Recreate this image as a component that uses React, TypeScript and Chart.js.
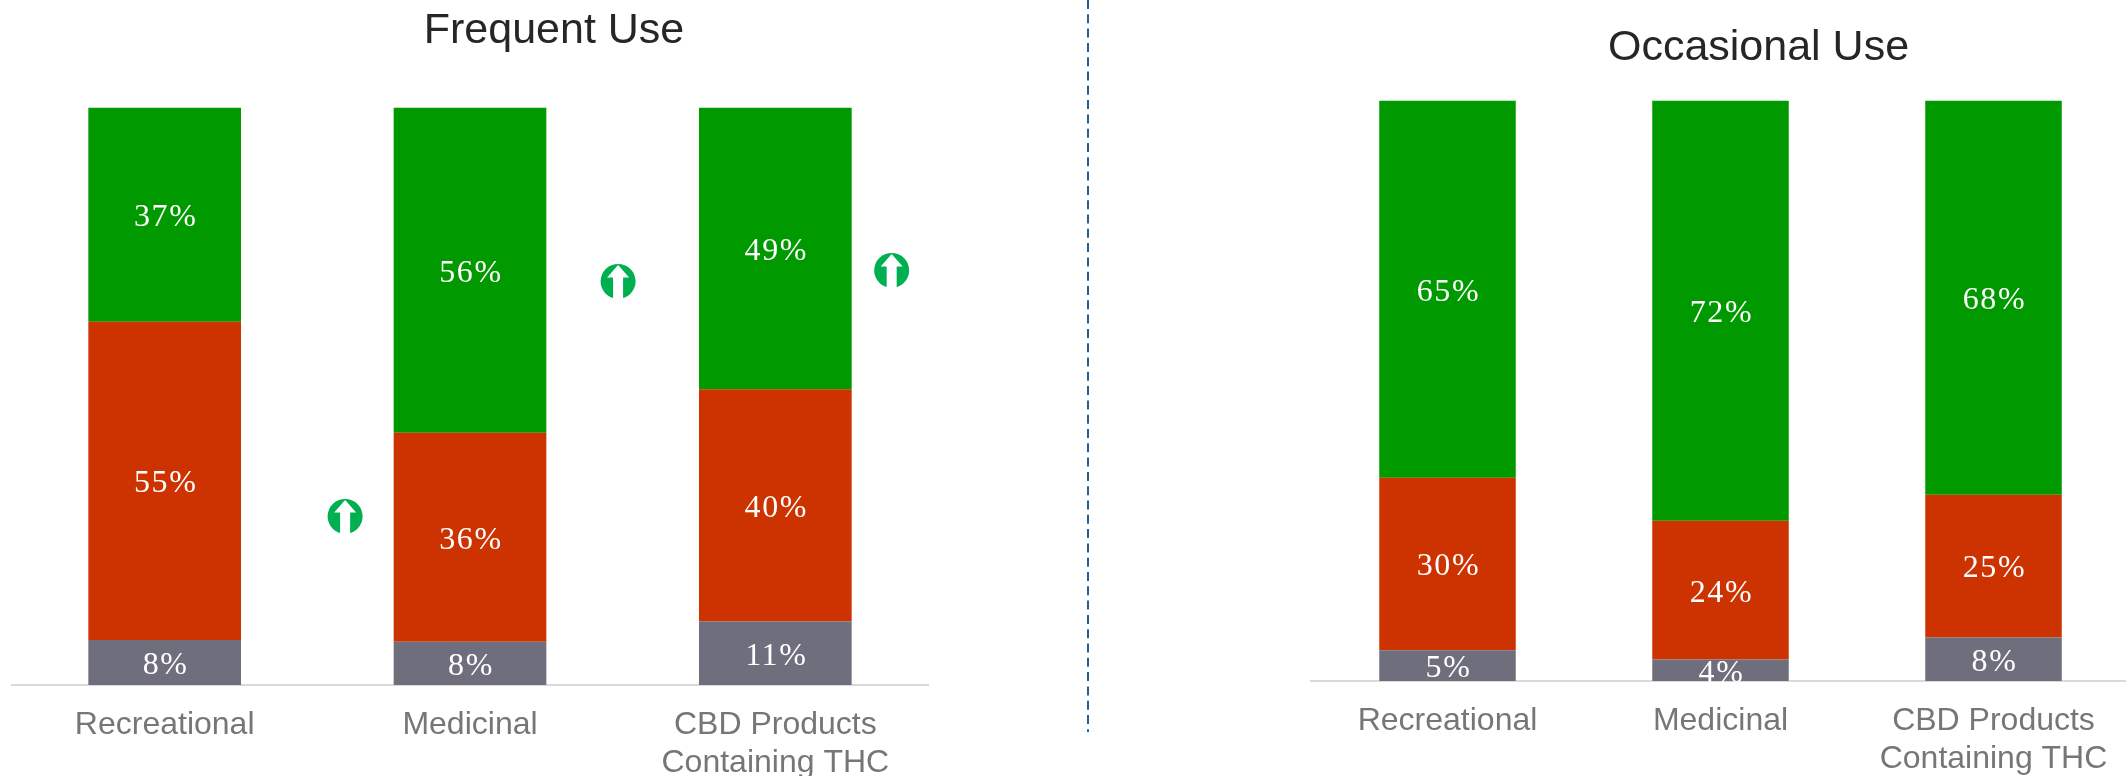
import React, { useEffect, useRef } from "react";
import { Chart, registerables } from "chart.js";

Chart.register(...registerables);

const categories = ["Recreational", "Medicinal", ["CBD Products", "Containing THC"]];
const seriesNames = ["Grey", "Red", "Green"];
const frequentGrey = [7.8, 7.5, 11];
const frequentRed = [55.1, 36.2, 40.2];
const frequentGreen = [37.1, 56.3, 48.8];
const occasionalGrey = [5.3, 3.7, 7.5];
const occasionalRed = [29.7, 23.9, 24.6];
const occasionalGreen = [65, 72.4, 67.9];
const frequentArrowCategory = [0.591, 1.485, 2.381];
const frequentArrowValue = [29.2, 69.9, 71.8];
const colors = ["#6F6E7C", "#CC3300", "#009900"];

const SANS = "'Liberation Sans', Arial, sans-serif";
const SERIF = "'Liberation Serif', 'Times New Roman', serif";

const valueLabels = {
  id: "valueLabels",
  afterDatasetsDraw(chart: any) {
    const { ctx } = chart;
    ctx.save();
    ctx.font = `32px ${SERIF}`;
    ctx.fillStyle = "#FFFFFF";
    ctx.textAlign = "center";
    ctx.textBaseline = "middle";
    (ctx as any).letterSpacing = "1.6px";
    chart.data.datasets.forEach((ds: any, i: number) => {
      chart.getDatasetMeta(i).data.forEach((bar: any, j: number) => {
        const mid = (bar.y + bar.base) / 2 + 3;
        ctx.fillText(`${Math.round(ds.data[j])}%`, bar.x + 1, mid);
      });
    });
    ctx.restore();
  },
};

const arrows = {
  id: "arrows",
  afterDraw(chart: any) {
    const opts = chart.options.plugins.arrows;
    if (!opts || !opts.xs) return;
    const { ctx, scales } = chart;
    opts.xs.forEach((xv: number, i: number) => {
      const x = scales.x.getPixelForValue(xv);
      const y = scales.y.getPixelForValue(opts.ys[i]);
      const r = 17.5;
      ctx.save();
      ctx.fillStyle = "#00B050";
      ctx.beginPath();
      ctx.arc(x, y, r, 0, Math.PI * 2);
      ctx.fill();
      ctx.fillStyle = "#FFFFFF";
      ctx.beginPath();
      ctx.moveTo(x, y - r + 1);
      ctx.lineTo(x + 11, y - 4);
      ctx.lineTo(x + 5, y - 4);
      ctx.lineTo(x + 5, y + r + 1);
      ctx.lineTo(x - 5, y + r + 1);
      ctx.lineTo(x - 5, y - 4);
      ctx.lineTo(x - 11, y - 4);
      ctx.closePath();
      ctx.fill();
      ctx.restore();
    });
  },
};

const divider = {
  id: "divider",
  afterDraw(chart: any) {
    const opts = chart.options.plugins.divider;
    if (!opts || !opts.x) return;
    const { ctx } = chart;
    ctx.save();
    ctx.strokeStyle = "#1F5F9E";
    ctx.lineWidth = 2;
    ctx.setLineDash([9, 5.3]);
    ctx.beginPath();
    ctx.moveTo(opts.x, 0);
    ctx.lineTo(opts.x, opts.end);
    ctx.stroke();
    ctx.restore();
  },
};

// The titles sit off the plot's centre in the reference: slide the title box sideways.
const titleShift = {
  id: "titleShift",
  afterLayout(chart: any) {
    const dx = chart.options.plugins.titleShift?.dx ?? 0;
    const block = chart.titleBlock;
    if (block) {
      block.left += dx;
      block.right += dx;
    }
  },
};

function makeChart(canvas: HTMLCanvasElement, cfg: any) {
  return new Chart(canvas, {
    type: "bar",
    plugins: [titleShift, valueLabels, arrows, divider],
    data: {
      labels: categories as any,
      datasets: cfg.values.map((v: number[], i: number) => ({
        label: seriesNames[i],
        data: v,
        backgroundColor: colors[i],
        borderWidth: 0,
        barPercentage: 1,
        categoryPercentage: cfg.barShare,
      })),
    },
    options: {
      animation: false,
      responsive: false,
      layout: { padding: cfg.padding },
      plugins: {
        legend: { display: false },
        tooltip: { enabled: false },
        title: {
          display: true,
          text: cfg.title,
          color: "#262626",
          font: { family: SANS, size: cfg.titleSize, weight: "normal" },
          padding: cfg.titlePadding,
        },
        titleShift: { dx: cfg.titleDx },
        arrows: cfg.arrows,
        divider: cfg.divider,
      },
      scales: {
        x: {
          stacked: true,
          grid: { display: false, drawTicks: false },
          border: { color: "#D9D9D9", width: 2 },
          afterFit(scale: any) {
            scale.height = cfg.axisHeight;
          },
          ticks: {
            color: "#767676",
            font: { family: SANS, size: 32 },
            padding: 21,
            maxRotation: 0,
            minRotation: 0,
            autoSkip: false,
          },
        },
        y: { stacked: true, display: false, min: 0, max: 100 },
      },
    } as any,
  });
}

export default function App() {
  const leftRef = useRef<HTMLCanvasElement>(null);
  const rightRef = useRef<HTMLCanvasElement>(null);

  useEffect(() => {
    const left = makeChart(leftRef.current!, {
      values: [frequentGrey, frequentRed, frequentGreen],
      barShare: 0.5,
      title: "Frequent Use",
      titleSize: 43,
      titleDx: 84,
      titlePadding: { top: 5, bottom: 51 },
      padding: { left: 12, right: 180, top: 0, bottom: 0 },
      axisHeight: 91,
      arrows: { xs: frequentArrowCategory, ys: frequentArrowValue },
      divider: { x: 1088, end: 732 },
    });
    const right = makeChart(rightRef.current!, {
      values: [occasionalGrey, occasionalRed, occasionalGreen],
      barShare: 0.5,
      title: "Occasional Use",
      titleSize: 43,
      titleDx: 38,
      titlePadding: { top: 22, bottom: 27 },
      padding: { left: 211, right: 288, top: 0, bottom: 0 },
      axisHeight: 95,
    });
    return () => {
      left.destroy();
      right.destroy();
    };
  }, []);

  return (
    <div style={{ position: "absolute", left: 0, top: 0, width: 2126, height: 776, overflow: "hidden", background: "#fff" }}>
      <canvas ref={leftRef} width={1108} height={776} style={{ position: "absolute", left: 0, top: 0 }} />
      <canvas ref={rightRef} width={1318} height={776} style={{ position: "absolute", left: 1100, top: 0 }} />
    </div>
  );
}
